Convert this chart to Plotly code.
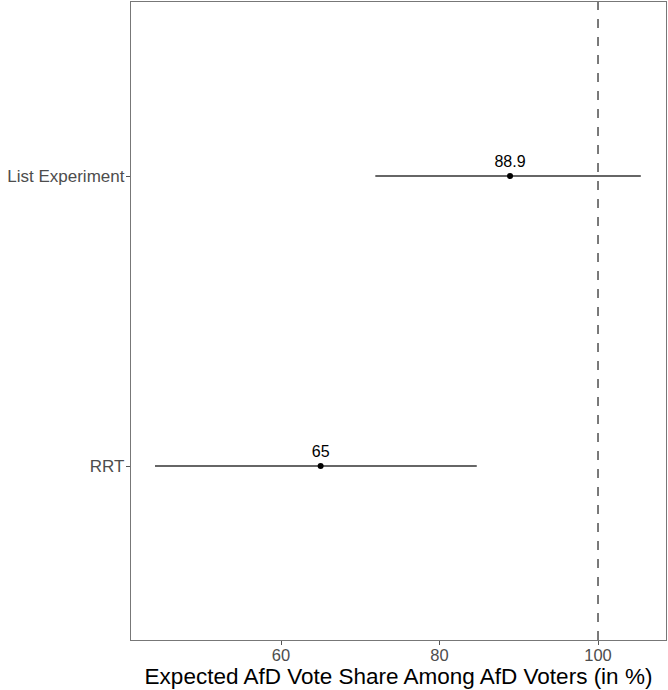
import plotly.graph_objects as go

# Estimates with 95% confidence intervals
methods = ["RRT", "List Experiment"]
estimates = [65.0, 88.9]
ci_low = [44.1, 71.9]
ci_high = [84.7, 105.4]
estimate_labels = ["65", "88.9"]
x_ticks = [60, 80, 100]
reference_line = 100

fig = go.Figure()

# Confidence interval segments
for m, lo, hi in zip(methods, ci_low, ci_high):
    fig.add_trace(go.Scatter(
        x=[lo, hi], y=[m, m], mode="lines",
        line=dict(color="#333333", width=1.6),
        hoverinfo="skip", showlegend=False,
    ))

# Point estimates with value labels
fig.add_trace(go.Scatter(
    x=estimates, y=methods, mode="markers+text",
    marker=dict(color="black", size=6),
    text=estimate_labels, textposition="top center",
    textfont=dict(family="Liberation Sans, Arial", size=16, color="black"),
    showlegend=False,
))

# Reference line at 100%
fig.add_shape(
    type="line", xref="x", yref="paper",
    x0=reference_line, x1=reference_line, y0=0, y1=1,
    line=dict(color="#333333", width=1.3, dash="dash"),
)

fig.update_layout(
    width=668, height=690,
    margin=dict(l=131, r=2, t=2, b=50),
    plot_bgcolor="white", paper_bgcolor="white",
    font=dict(family="Liberation Sans, Arial", color="#4d4d4d"),
    xaxis=dict(
        range=[41.07, 108.58],
        tickvals=x_ticks,
        ticks="outside", ticklen=4, tickcolor="#555555",
        tickfont=dict(size=16.5, color="#4d4d4d"),
        ticklabelstandoff=-4,
        showgrid=False, zeroline=False,
        showline=True, linecolor="#777777", linewidth=1.3, mirror=True,
        title=dict(text="Expected AfD Vote Share Among AfD Voters (in %)",
                   font=dict(size=22.5, color="black"), standoff=2),
    ),
    yaxis=dict(
        type="category", categoryorder="array", categoryarray=methods,
        range=[-0.6, 1.6],
        ticks="outside", ticklen=4, tickcolor="#555555",
        tickfont=dict(size=17, color="#4d4d4d"),
        ticklabelstandoff=-2,
        showgrid=False, zeroline=False,
        showline=True, linecolor="#777777", linewidth=1.3, mirror=True,
    ),
)

fig.write_html("out.html")
